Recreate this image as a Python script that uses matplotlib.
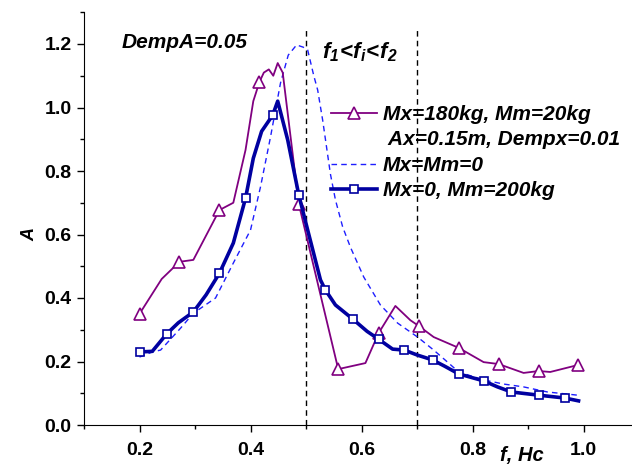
import matplotlib
matplotlib.use("Agg")
import matplotlib.pyplot as plt
from matplotlib.lines import Line2D
from matplotlib.ticker import MultipleLocator

plt.rcParams['font.family'] = ['Liberation Sans', 'DejaVu Sans']
plt.rcParams['mathtext.fontset'] = 'custom'
plt.rcParams['mathtext.rm'] = 'Liberation Sans:bold:italic'
plt.rcParams['mathtext.it'] = 'Liberation Sans:bold:italic'
plt.rcParams['mathtext.bf'] = 'Liberation Sans:bold:italic'

# Mx=180kg, Mm=20kg, Ax=0.15m, Dempx=0.01
purple_x = [0.200, 0.240, 0.272, 0.297, 0.344, 0.369, 0.391, 0.405, 0.416, 0.424,
            0.433, 0.441, 0.449, 0.458, 0.487, 0.558, 0.607, 0.631, 0.661, 0.688,
            0.703, 0.730, 0.775, 0.820, 0.847, 0.892, 0.919, 0.940, 0.990]
purple_y = [0.350, 0.460, 0.514, 0.520, 0.677, 0.700, 0.866, 1.020, 1.080, 1.110,
            1.120, 1.100, 1.140, 1.110, 0.696, 0.176, 0.195, 0.290, 0.375, 0.330,
            0.312, 0.277, 0.243, 0.198, 0.192, 0.164, 0.170, 0.167, 0.189]
purple_marks = [0, 2, 4, 8, 14, 15, 17, 20, 22, 24, 26, 28]

# Mx=0, Mm=200kg
navy_x = [0.200, 0.223, 0.249, 0.270, 0.297, 0.320, 0.344, 0.369, 0.391, 0.405,
          0.420, 0.440, 0.449, 0.467, 0.487, 0.503, 0.526, 0.535, 0.553, 0.584,
          0.610, 0.631, 0.656, 0.677, 0.701, 0.728, 0.750, 0.775, 0.820, 0.845,
          0.870, 0.919, 0.966, 0.991]
navy_y = [0.230, 0.232, 0.287, 0.322, 0.356, 0.410, 0.478, 0.573, 0.714, 0.840,
          0.925, 0.976, 1.020, 0.898, 0.724, 0.614, 0.457, 0.425, 0.378, 0.334,
          0.295, 0.270, 0.239, 0.236, 0.220, 0.205, 0.185, 0.161, 0.139, 0.120,
          0.104, 0.094, 0.085, 0.076]
navy_marks = [0, 2, 4, 6, 8, 11, 14, 17, 19, 21, 23, 25, 27, 28, 30, 31, 32]

# Mx=Mm=0
dash_x = [0.200, 0.223, 0.238, 0.274, 0.297, 0.337, 0.369, 0.400, 0.418, 0.436,
          0.454, 0.468, 0.483, 0.495, 0.503, 0.514, 0.521, 0.530, 0.544, 0.553,
          0.566, 0.580, 0.604, 0.634, 0.665, 0.701, 0.730, 0.757, 0.775, 0.820,
          0.856, 0.892, 0.935, 0.989]
dash_y = [0.214, 0.230, 0.236, 0.305, 0.352, 0.400, 0.510, 0.614, 0.750, 0.907,
          1.077, 1.165, 1.197, 1.190, 1.181, 1.100, 1.055, 0.960, 0.790, 0.709,
          0.624, 0.560, 0.466, 0.378, 0.321, 0.277, 0.236, 0.195, 0.167, 0.142,
          0.129, 0.120, 0.104, 0.094]

vlines_x = [0.5, 0.7]
labels = ["Mx=180kg, Mm=20kg", " Ax=0.15m, Dempx=0.01", "Mx=Mm=0", "Mx=0, Mm=200kg"]

W, H = 632, 472
fig = plt.figure(figsize=(W / 100, H / 100), dpi=100)
ax = fig.add_axes([84 / W, 47 / H, 549.5 / W, 412.75 / H])
ax.set_xlim(0.1, 1.09)
ax.set_ylim(0.0, 1.3)

purple = '#800080'
navy = '#0000A0'
blue = '#1E1EFF'

for xv in vlines_x:
    ax.axvline(xv, ymax=0.96, color='black', lw=1.0, ls=(0, (4, 3)), zorder=1)

ax.plot(dash_x, dash_y, color=blue, lw=1.0, ls=(0, (4, 3)), zorder=2)
ax.plot(purple_x, purple_y, color=purple, lw=1.3, marker='^', markevery=purple_marks,
        ms=8, mfc='white', mec=purple, mew=1.2, zorder=3)
ax.plot(navy_x, navy_y, color=navy, lw=2.6, marker='s', markevery=navy_marks,
        ms=6, mfc='white', mec=navy, mew=1.2, zorder=4)

for s in ['top', 'right']:
    ax.spines[s].set_visible(False)
ax.xaxis.set_major_locator(MultipleLocator(0.2))
ax.xaxis.set_minor_locator(MultipleLocator(0.1))
ax.yaxis.set_major_locator(MultipleLocator(0.2))
ax.yaxis.set_minor_locator(MultipleLocator(0.1))
ax.set_xticks([0.2, 0.4, 0.6, 0.8, 1.0])
ax.tick_params(which='major', direction='out', length=5, width=1, labelsize=14, pad=4)
ax.tick_params(axis='x', which='major', pad=7)
ax.tick_params(which='minor', direction='out', length=3, width=1)
for lab in ax.get_xticklabels() + ax.get_yticklabels():
    lab.set_fontweight('bold')

ax.set_ylabel('A', fontsize=13, fontweight='bold', fontstyle='italic')
ax.yaxis.set_label_coords(-46 / 549.5, 0.6 / 1.3)
fig.text(500 / W, 1 - 456 / H, 'f, Hc', fontsize=14.5, fontweight='bold', fontstyle='italic',
         ha='left', va='center')
fig.text(122 / W, 1 - 43 / H, 'DempA=0.05', fontsize=15, fontweight='bold',
         fontstyle='italic', ha='left', va='center')
fig.text(322 / W, 1 - 52 / H, r'$f_1\!<\!f_i\!<\!f_2$', fontsize=16, ha='left', va='center')

handles = [
    Line2D([], [], color=purple, lw=1.3, marker='^', ms=8, mfc='white', mec=purple, mew=1.2),
    Line2D([], [], color='none', lw=0),
    Line2D([], [], color=blue, lw=1.0, ls=(0, (4, 3))),
    Line2D([], [], color=navy, lw=2.6, marker='s', ms=6, mfc='white', mec=navy, mew=1.2),
]
fs = 15
fpx = fs * 100 / 72
leg = fig.legend(handles, labels, loc='upper left',
                 bbox_to_anchor=(331 / W, 1 - 105 / H), frameon=False,
                 prop={'family': 'Liberation Sans', 'weight': 'bold', 'style': 'italic', 'size': fs},
                 handlelength=46 / fpx, handletextpad=6 / fpx, labelspacing=0.31,
                 borderpad=0, borderaxespad=0)

fig.savefig('out.png', dpi=100)
